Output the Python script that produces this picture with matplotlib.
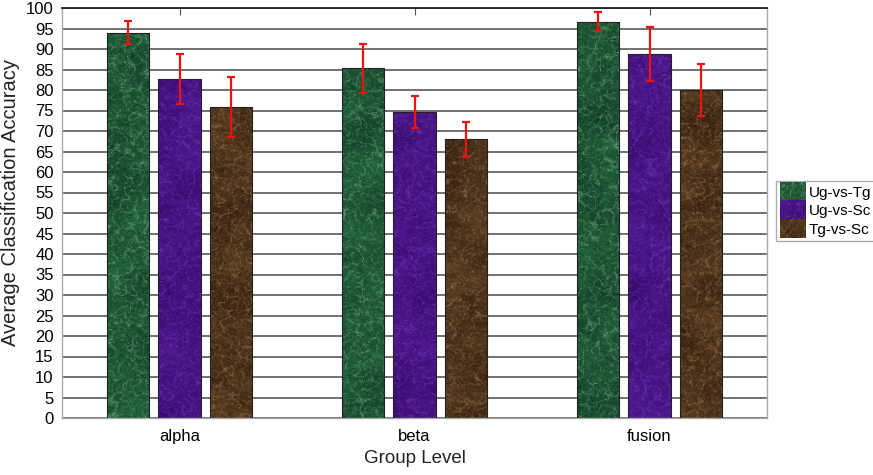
import numpy as np
import matplotlib
matplotlib.use("Agg")
import matplotlib.pyplot as plt
from matplotlib.patches import Patch
from matplotlib.legend_handler import HandlerBase
from matplotlib.image import BboxImage
from matplotlib.transforms import Bbox, TransformedBbox

plt.rcParams['font.family'] = ['Liberation Sans', 'DejaVu Sans']

groups = ['alpha', 'beta', 'fusion']
series = ['Ug-vs-Tg', 'Ug-vs-Sc', 'Tg-vs-Sc']
means = {
    'Ug-vs-Tg': [94.0, 85.3, 96.7],
    'Ug-vs-Sc': [82.7, 74.6, 88.7],
    'Tg-vs-Sc': [75.9, 68.0, 80.0],
}
errors = {
    'Ug-vs-Tg': [2.8, 6.0, 2.4],
    'Ug-vs-Sc': [6.0, 3.9, 6.6],
    'Tg-vs-Sc': [7.3, 4.3, 6.3],
}

# dark / mid / vein colours of the marble fill for each series
palettes = {
    'Ug-vs-Tg': [(14, 55, 30), (40, 110, 68), (150, 210, 170)],
    'Ug-vs-Sc': [(48, 6, 98), (88, 28, 155), (135, 80, 205)],
    'Tg-vs-Sc': [(42, 24, 10), (105, 72, 40), (200, 160, 110)],
}


def box_blur(a, k):
    if k < 2:
        return a
    pad = k // 2
    for axis in (0, 1):
        a = np.pad(a, [(pad, pad) if i == axis else (0, 0) for i in range(2)], mode='reflect')
        c = np.cumsum(a, axis=axis)
        c = np.insert(c, 0, 0, axis=axis)
        n = a.shape[axis] - 2 * pad
        a = (np.take(c, np.arange(k, k + n), axis=axis) - np.take(c, np.arange(0, n), axis=axis)) / k
    return a


def noise(rng, h, w, scale):
    small = rng.random((h // scale + 3, w // scale + 3))
    big = np.kron(small, np.ones((scale, scale)))[:h, :w]
    big = box_blur(box_blur(big, scale), scale)
    big = (big - big.min()) / (np.ptp(big) + 1e-9)
    return big


def marble(seed, colours, h=420, w=45):
    rng = np.random.default_rng(seed)
    base = (0.35 * noise(rng, h, w, 20) + 0.25 * noise(rng, h, w, 6)
            + 0.4 * rng.random((h, w)))
    base = (base - base.min()) / np.ptp(base)
    veins = np.exp(-((noise(rng, h, w, 6) - 0.5) / 0.035) ** 2)
    veins += 0.7 * np.exp(-((noise(rng, h, w, 3) - 0.5) / 0.05) ** 2)
    veins = np.clip(veins, 0, 1) * rng.random((h, w))
    dark, mid, light = [np.array(c) / 255 for c in colours]
    img = dark + (mid - dark) * base[..., None]
    img = img + (light - img) * (0.6 * veins[..., None])
    return np.clip(img, 0, 1)


class TextureHandler(HandlerBase):
    def __init__(self, tex):
        super().__init__()
        self.tex = tex

    def create_artists(self, legend, orig_handle, xdescent, ydescent,
                       width, height, fontsize, trans):
        bb = Bbox.from_bounds(-xdescent, -ydescent - 2, width, height + 4)
        img = BboxImage(TransformedBbox(bb, trans), interpolation='bilinear')
        img.set_data(self.tex[100:118, 5:40])
        return [img]


fig = plt.figure(figsize=(8.73, 4.75), dpi=100)
ax = fig.add_axes([62 / 873, 1 - 418 / 475, 705 / 873, 410 / 475])

x = np.arange(len(groups))
width = 0.179
offsets = [-0.221, 0.0, 0.221]

textures = {}
for si, name in enumerate(series):
    bars = ax.bar(x + offsets[si], means[name], width, facecolor='none',
                  edgecolor='#222222', linewidth=0.8, zorder=3)
    for gi, bar in enumerate(bars):
        tex = marble(10 * si + gi + 1, palettes[name])
        if gi == 0:
            textures[name] = tex
        bx = bar.get_x()
        im = ax.imshow(tex, extent=(bx, bx + bar.get_width(), 0, bar.get_height()),
                       aspect='auto', origin='lower', interpolation='bilinear', zorder=2)
        im.set_clip_path(bar)
    ax.errorbar(x + offsets[si], means[name], yerr=errors[name], fmt='none',
                ecolor='#ee1111', elinewidth=1.6, capsize=3, capthick=1.6, zorder=4)

ax.set_xlim(-0.5, 2.5)
ax.set_ylim(0, 100)
ax.set_yticks(np.arange(0, 101, 5))
ax.set_xticks(x)
ax.set_xticklabels(groups)
ax.yaxis.grid(True, color='#4a4a4a', linewidth=1.1)
ax.set_axisbelow(True)
ax.tick_params(axis='y', length=0, labelsize=12, pad=6)
ax.tick_params(axis='x', direction='in', length=5, top=True, bottom=False,
               labelsize=12, pad=8, color='#555555')

for side in ('left', 'bottom', 'right'):
    ax.spines[side].set_color('#aaaaaa')
    ax.spines[side].set_linewidth(1.0)
ax.spines['top'].set_color('#222222')
ax.spines['top'].set_linewidth(1.3)

ax.set_ylabel('Average Classification Accuracy', fontsize=14.5, color='#222222')
ax.yaxis.set_label_coords(-0.059, 0.525)
ax.set_xlabel('Group Level', fontsize=13.5, labelpad=4, color='#222222')

handles = [Patch(label=name) for name in series]
hmap = {h: TextureHandler(textures[n]) for h, n in zip(handles, series)}
leg = fig.legend(handles=handles, handler_map=hmap, loc='center left',
                 bbox_to_anchor=(776 / 873, 1 - 211 / 475), fontsize=11,
                 frameon=True, fancybox=False, edgecolor='#999999',
                 handlelength=1.7, handleheight=0.9, handletextpad=0.2,
                 labelspacing=0.25, borderpad=0.25, borderaxespad=0)
leg.get_frame().set_linewidth(1.0)

fig.savefig('out.png', dpi=100)
